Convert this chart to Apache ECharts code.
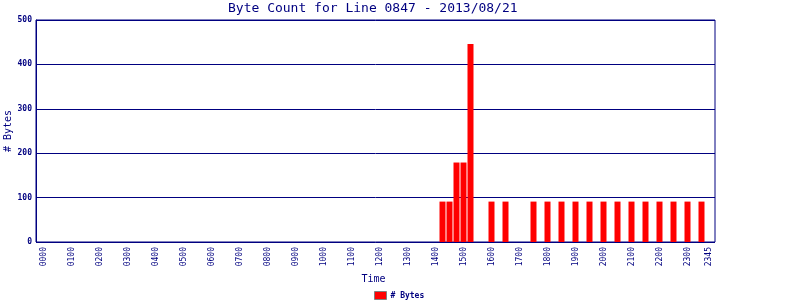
<!DOCTYPE html>
<html>
<head>
<meta charset="utf-8">
<script src="https://cdn.jsdelivr.net/npm/echarts@6/dist/echarts.min.js"></script>
<style>html,body{margin:0;padding:0;background:#fff}#c{width:800px;height:300px}</style>
</head>
<body>
<div id="c"></div>
<script>
var categories = [
"0000","0015","0030","0045","0100","0115","0130","0145","0200","0215","0230","0245",
"0300","0315","0330","0345","0400","0415","0430","0445","0500","0515","0530","0545",
"0600","0615","0630","0645","0700","0715","0730","0745","0800","0815","0830","0845",
"0900","0915","0930","0945","1000","1015","1030","1045","1100","1115","1130","1145",
"1200","1215","1230","1245","1300","1315","1330","1345","1400","1415","1430","1445",
"1500","1515","1530","1545","1600","1615","1630","1645","1700","1715","1730","1745",
"1800","1815","1830","1845","1900","1915","1930","1945","2000","2015","2030","2045",
"2100","2115","2130","2145","2200","2215","2230","2245","2300","2315","2330","2345"];
var bytes = [
0,0,0,0,0,0,0,0,0,0,0,0,0,0,0,0,
0,0,0,0,0,0,0,0,0,0,0,0,0,0,0,0,
0,0,0,0,0,0,0,0,0,0,0,0,0,0,0,0,
0,0,0,0,0,0,0,0,0,91,91,179,179,446,0,0,
91,0,91,0,0,0,91,0,91,0,91,0,91,0,91,0,
91,0,91,0,91,0,91,0,91,0,91,0,91,0,91,0];
var yTicks = [0,100,200,300,400,500];
var shownLabels = ["0000","0100","0200","0300","0400","0500","0600","0700","0800","0900","1000","1100",
"1200","1300","1400","1500","1600","1700","1800","1900","2000","2100","2200","2300","2345"];

var navy = '#000080';
var mono = 'DejaVu Sans Mono';
var chart = echarts.init(document.getElementById('c'), null, {renderer:'canvas'});
chart.setOption({
  animation: false,
  title: {
    text: 'Byte Count for Line 0847 - 2013/08/21',
    left: 228, top: 2, padding: 0,
    textStyle: {fontFamily: mono, fontSize: 13, fontWeight: 'normal', color: navy}
  },
  legend: {
    data: ['# Bytes'],
    left: 374, top: 291, padding: 0,
    icon: 'rect', itemWidth: 12, itemHeight: 8, itemGap: 4,
    itemStyle: {borderColor: '#808080', borderWidth: 1},
    textStyle: {fontFamily: mono, fontSize: 8, fontWeight: 'bold', color: navy, padding: [0,0,0,-1]}
  },
  grid: [
    {left: 36, top: 20, width: 679, height: 222, show: true, borderColor: navy, borderWidth: 1,
     backgroundColor: 'transparent', outerBoundsMode: 'none', containLabel: false},
    {left: 40, top: 20, width: 672, height: 222, outerBoundsMode: 'none', containLabel: false}
  ],
  xAxis: [
    {gridIndex: 0, type: 'value', min: 0, max: 1, show: false},
    {gridIndex: 1, type: 'category', data: categories,
     axisLine: {show: false}, axisTick: {show: false},
     axisLabel: {rotate: 90, margin: 5, fontFamily: mono, fontSize: 8, color: navy,
       interval: function(i, v){ return shownLabels.indexOf(v) >= 0; }},
     name: 'Time', nameLocation: 'middle', nameGap: 32, nameMoveOverlap: false,
     nameTextStyle: {fontFamily: mono, fontSize: 10, color: navy, padding: [0,5,0,0]}}
  ],
  yAxis: [
    {gridIndex: 0, type: 'value', min: yTicks[0], max: yTicks[yTicks.length-1], interval: 100,
     axisLine: {show: true, lineStyle: {color: navy, width: 1}},
     axisTick: {show: false},
     splitLine: {show: true, lineStyle: {color: navy, width: 1}},
     axisLabel: {margin: 4, fontFamily: mono, fontSize: 8, fontWeight: 'bold', color: navy},
     name: '# Bytes', nameLocation: 'middle', nameGap: 23, nameRotate: 90, nameMoveOverlap: false,
     nameTextStyle: {fontFamily: mono, fontSize: 10, color: navy}},
    {gridIndex: 1, type: 'value', min: 0, max: 500, show: false, splitLine: {show: false}}
  ],
  series: [{
    name: '# Bytes', type: 'bar', xAxisIndex: 1, yAxisIndex: 1,
    data: bytes, barWidth: 6, itemStyle: {color: '#ff0000'}
  }]
});
</script>
</body>
</html>
